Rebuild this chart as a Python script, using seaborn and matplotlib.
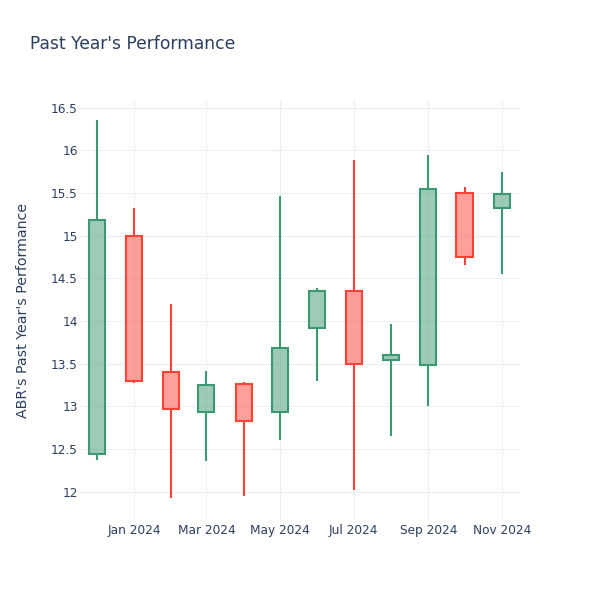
import matplotlib
matplotlib.use("Agg")
import matplotlib.pyplot as plt
import matplotlib.dates as mdates
import matplotlib.ticker as mticker
import seaborn as sns
import pandas as pd
import numpy as np

months = pd.date_range("2023-12-01", periods=12, freq="MS")
open_p = [12.44, 15.00, 13.40, 12.94, 13.26, 12.94, 13.92, 14.35, 13.55, 13.48, 15.50, 15.32]
high_p = [16.35, 15.32, 14.20, 13.42, 13.29, 15.47, 14.39, 15.89, 13.97, 15.94, 15.57, 15.75]
low_p = [12.37, 13.27, 11.93, 12.36, 11.95, 12.61, 13.30, 12.02, 12.65, 13.00, 14.66, 14.55]
close_p = [15.18, 13.30, 12.97, 13.25, 12.83, 13.68, 14.35, 13.50, 13.60, 15.55, 14.75, 15.49]
y_ticks = [12, 12.5, 13, 13.5, 14, 14.5, 15, 15.5, 16, 16.5]

df = pd.DataFrame({"date": months, "open": open_p, "high": high_p,
                   "low": low_p, "close": close_p})

sns.set_style("whitegrid")
plt.rcParams['font.family'] = ['DejaVu Sans']

INC = "#3D9970"
DEC = "#FF4136"
TXT = "#2a3f5f"

fig = plt.figure(figsize=(6, 6), dpi=100)
ax = fig.add_axes([80/600, 80/600, 440/600, 420/600])

for _, r in df.iterrows():
    up = r["close"] >= r["open"]
    col = INC if up else DEC
    lo_b = min(r["open"], r["close"])
    hi_b = max(r["open"], r["close"])
    ax.vlines(r["date"], hi_b, r["high"], color=col, linewidth=1.5, zorder=3)
    ax.vlines(r["date"], r["low"], lo_b, color=col, linewidth=1.5, zorder=3)
    ax.bar(r["date"], hi_b - lo_b, bottom=lo_b, width=13.3,
           facecolor=matplotlib.colors.to_rgba(col, 0.5), edgecolor=col,
           linewidth=1.5, zorder=4)

ax.set_xlim(pd.Timestamp("2023-11-17 05:00"), pd.Timestamp("2024-11-16"))
ax.set_ylim(11.67, 16.59)
ax.set_yticks(y_ticks)
ax.yaxis.set_major_formatter(mticker.FuncFormatter(lambda v, p: f"{v:g}"))
ax.xaxis.set_major_locator(mdates.MonthLocator(bymonth=[1, 3, 5, 7, 9, 11]))
ax.xaxis.set_major_formatter(mdates.DateFormatter("%b %Y"))

ax.grid(True, color="#EBF0F8", linewidth=0.75)
ax.set_axisbelow(True)
for s in ax.spines.values():
    s.set_visible(False)
ax.tick_params(axis="both", length=0, colors=TXT, labelsize=8.7)
ax.tick_params(axis="y", pad=1.5)
ax.tick_params(axis="x", pad=3)
ax.set_xlabel("")
ax.set_ylabel("")

fig.text(30/600, 1 - 44/600, "Past Year's Performance", fontsize=12.3,
         color=TXT, va="center", ha="left")
fig.text(23/600, 1 - 310/600, "ABR's Past Year's Performance", fontsize=10.2,
         color=TXT, va="center", ha="center", rotation=90)

fig.savefig("out.png", dpi=100, facecolor="white")
